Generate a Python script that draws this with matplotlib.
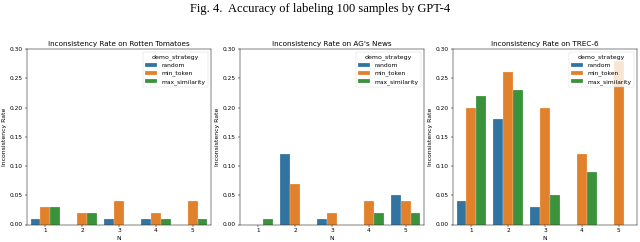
import matplotlib
matplotlib.use("Agg")
import matplotlib.pyplot as plt
import numpy as np

N_values = [1, 2, 3, 4, 5]
strategies = ["random", "min_token", "max_similarity"]
titles = ["Inconsistency Rate on Rotten Tomatoes",
          "Inconsistency Rate on AG's News",
          "Inconsistency Rate on TREC-6"]

rt_random = [0.01, 0.00, 0.01, 0.01, 0.00]
rt_min_token = [0.03, 0.02, 0.04, 0.02, 0.04]
rt_max_similarity = [0.03, 0.02, 0.00, 0.01, 0.01]

ag_random = [0.00, 0.12, 0.01, 0.00, 0.05]
ag_min_token = [0.00, 0.07, 0.02, 0.04, 0.04]
ag_max_similarity = [0.01, 0.00, 0.00, 0.02, 0.02]

trec_random = [0.04, 0.18, 0.03, 0.00, 0.00]
trec_min_token = [0.20, 0.26, 0.20, 0.12, 0.28]
trec_max_similarity = [0.22, 0.23, 0.05, 0.09, 0.00]

datasets = [
    [rt_random, rt_min_token, rt_max_similarity],
    [ag_random, ag_min_token, ag_max_similarity],
    [trec_random, trec_min_token, trec_max_similarity],
]

colors = ["#3274a1", "#e1812c", "#3a923a"]
yticks = [0.00, 0.05, 0.10, 0.15, 0.20, 0.25, 0.30]

W, H = 640, 242
fig = plt.figure(figsize=(6.4, 2.42), dpi=100)
fig.text(0.5, 1 - 9 / H, "Fig. 4.  Accuracy of labeling 100 samples by GPT-4",
         ha="center", va="center", family="Liberation Serif", fontsize=9)

lefts = [27, 240, 453]
aw = 184
bottom, top = 224.5, 49
for i, (left, series, title) in enumerate(zip(lefts, datasets, titles)):
    ax = fig.add_axes([left / W, (H - bottom) / H, aw / W, (bottom - top) / H])
    x = np.arange(len(N_values))
    bw = 0.8 / 3
    for j, (vals, name) in enumerate(zip(series, strategies)):
        ax.bar(x + (j - 1) * bw, vals, width=bw, color=colors[j], label=name,
               edgecolor="white", linewidth=0.15)
    ax.set_ylim(0, 0.30)
    ax.set_yticks(yticks)
    ax.set_yticklabels([f"{t:.2f}" for t in yticks])
    ax.set_xlim(-0.5, 4.5)
    ax.set_xticks(x)
    ax.set_xticklabels([str(n) for n in N_values])
    ax.tick_params(labelsize=4.2, width=0.35, length=1.6, pad=1.2)
    for s in ax.spines.values():
        s.set_linewidth(0.35)
    ax.set_title(title, fontsize=5.2, pad=2.5)
    ax.set_xlabel("N", fontsize=4.4, labelpad=2)
    ax.set_ylabel("Inconsistency Rate", fontsize=4.4, labelpad=2)
    leg = ax.legend(title="demo_strategy", loc="upper right", fontsize=4.3,
                    title_fontsize=4.5, frameon=True, handlelength=2,
                    borderpad=0.4, labelspacing=0.45)
    leg.get_frame().set_linewidth(0.3)

fig.savefig("out.png", dpi=100)
